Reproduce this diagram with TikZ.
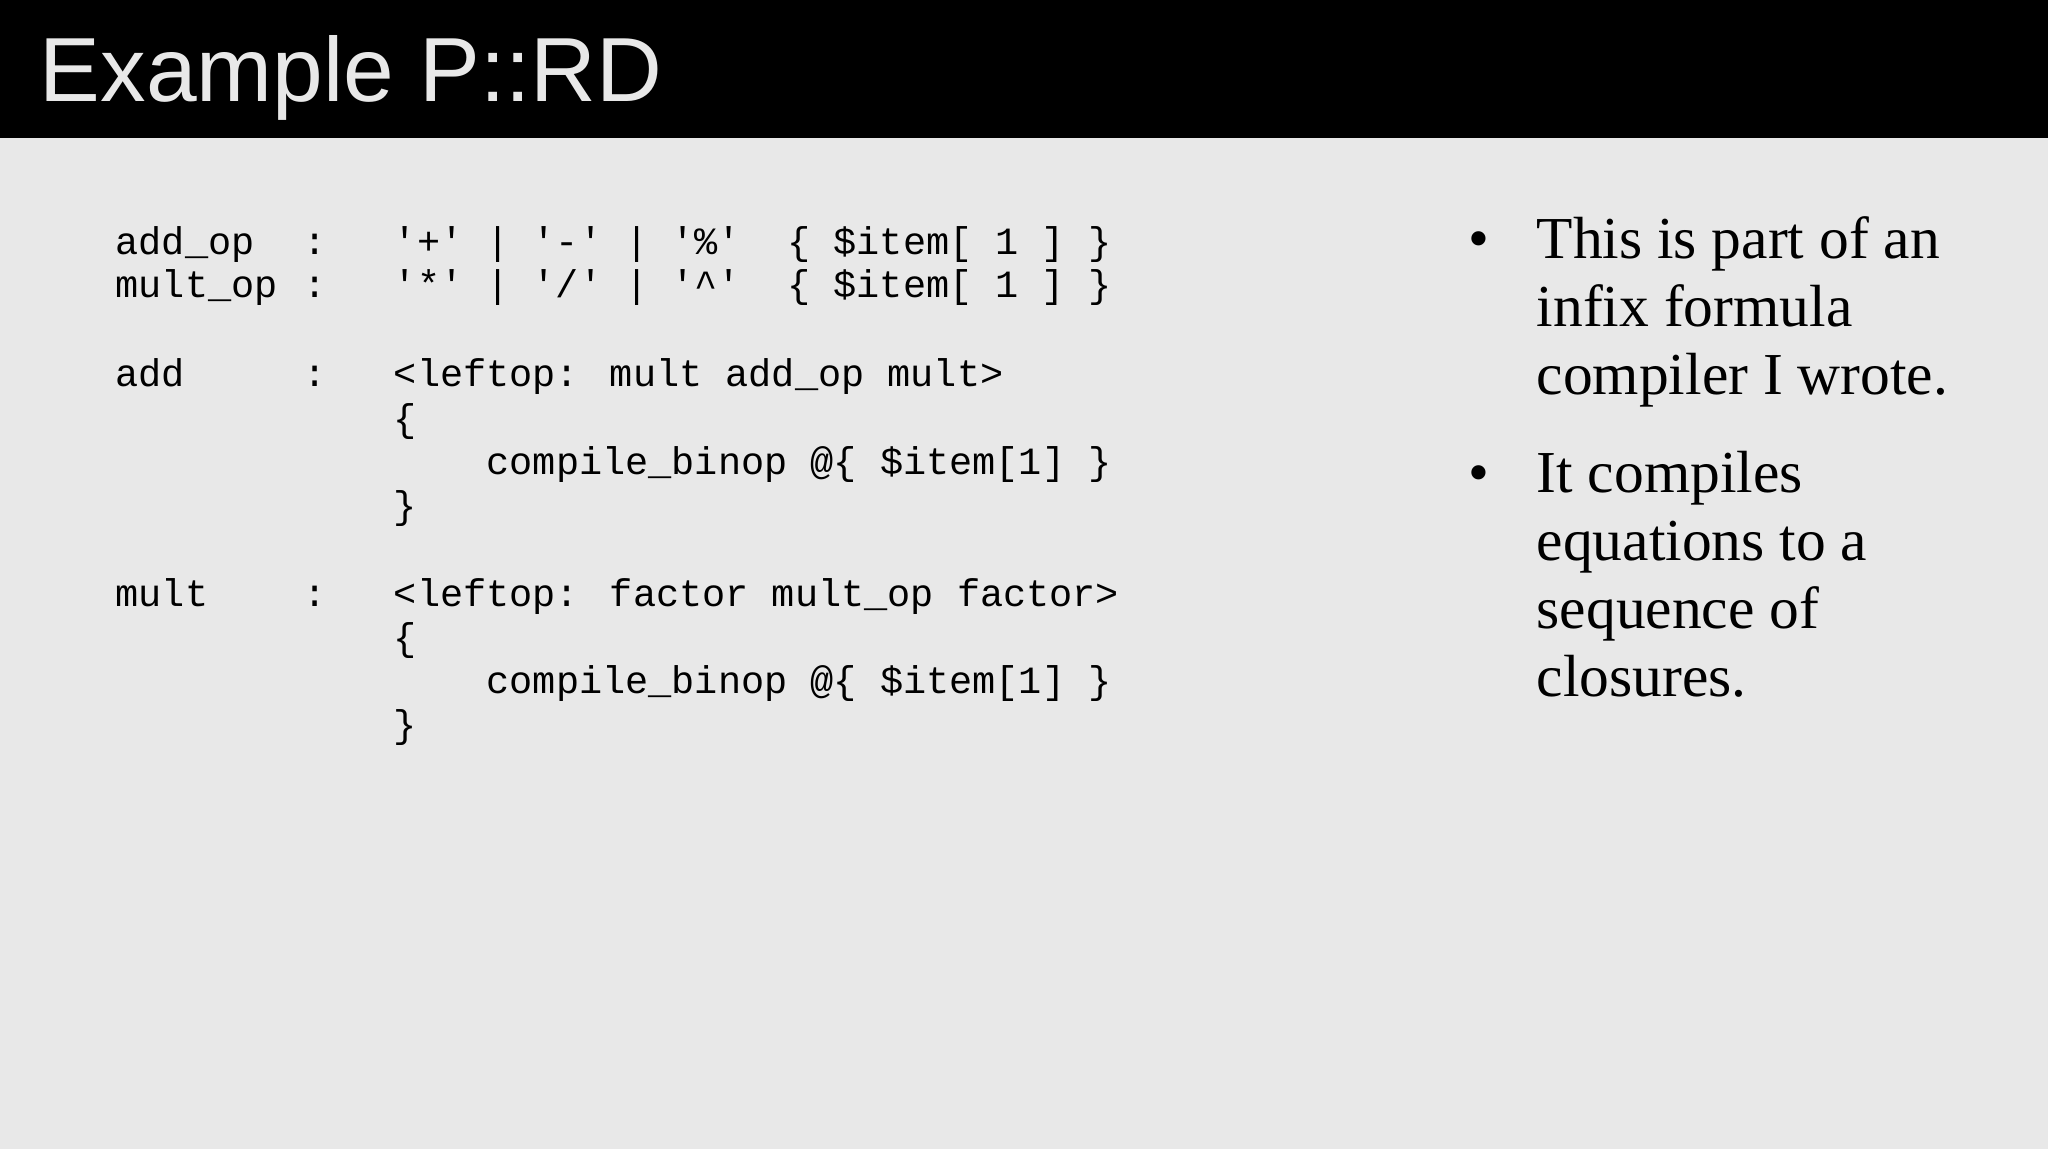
\documentclass[tikz,border=0pt]{standalone}
\usepackage{fontspec}
\setmainfont{Liberation Serif}
\newfontfamily\monof{Liberation Mono}
\newfontfamily\sansf{Liberation Sans}
\begin{document}
\begin{tikzpicture}[x=0.0125cm,y=-0.0125cm,
  code/.style={anchor=base west,inner sep=0,font=\monof\fontsize{10.5}{12}\selectfont},
  txt/.style={anchor=base west,inner sep=0,font=\fontsize{16.2}{18}\selectfont}]
\useasboundingbox (0,0) rectangle (1568,880);
\fill[gray!18] (0,0) rectangle (1568,880);
\fill[black] (0,0) rectangle (1568,106);
\node[anchor=base west,inner sep=0,text=gray!18,font=\sansf\fontsize{24.8}{28}\selectfont] (title) at (30,78) {Example P::RD};
% column 1
\node[code] (a1) at (88,195) {add\_op};
\node[code] (a2) at (88,228) {mult\_op};
\node[code] (a3) at (88,296) {add};
\node[code] (a4) at (88,464) {mult};
\foreach \yy/\nm in {195/c1,228/c2,296/c3,464/c4} \node[code] (\nm) at (232,\yy) {:};
\node[code] (b1) at (301,195) {'+' | '-' | '\%'~~\{ \$item[ 1 ] \}};
\node[code] (b2) at (301,228) {'*' | '/' | '\^{}'~~\{ \$item[ 1 ] \}};
\node[code] (b3) at (301,296) {<leftop: mult add\_op mult>};
\node[code] (b4) at (301,330) {\{};
\node[code] (b5) at (372,363) {compile\_binop @\{ \$item[1] \}};
\node[code] (b6) at (301,397) {\}};
\node[code] (b7) at (301,464) {<leftop: factor mult\_op factor>};
\node[code] (b8) at (301,498) {\{};
\node[code] (b9) at (372,531) {compile\_binop @\{ \$item[1] \}};
\node[code] (b10) at (301,565) {\}};
% bullets
\node[txt] (u1) at (1124,198) {\textbullet};
\node[txt] (u2) at (1124,377) {\textbullet};
\node[txt] (t1) at (1176,198) {This is part of an};
\node[txt] (t2) at (1176,250) {infix formula};
\node[txt] (t3) at (1176,302) {compiler I wrote.};
\node[txt] (t4) at (1176,377) {It compiles};
\node[txt] (t5) at (1176,429) {equations to a};
\node[txt] (t6) at (1176,481) {sequence of};
\node[txt] (t7) at (1176,533) {closures.};
\end{tikzpicture}
\end{document}
